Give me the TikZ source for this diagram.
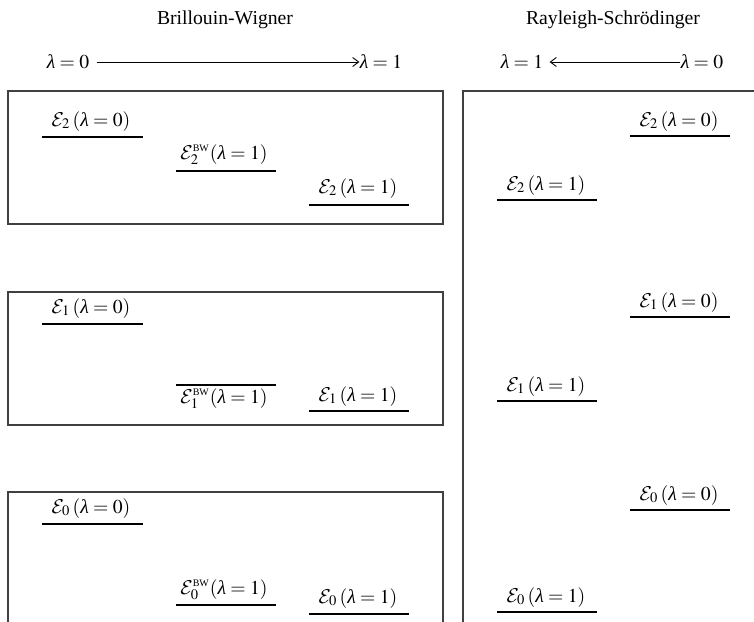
\documentclass[tikz,border=0pt]{standalone}
\usepackage{mathptmx}
\usepackage{fontspec}
\setmainfont{Liberation Serif}
\DeclareMathAlphabet{\mathcalcm}{OMS}{cmsy}{m}{n}
\usetikzlibrary{arrows.meta}
\newcommand{\bwsup}{\mbox{\fontsize{5}{5}\selectfont BW}}
\newcommand{\En}{\mathcalcm{E}}
\newcommand{\lam}{\mbox{\itshape λ}}
\begin{document}
\begin{tikzpicture}[x=0.5pt,y=-0.5pt,
  every node/.style={font=\fontsize{9.85}{12}\selectfont},
  ttl/.style={inner sep=0pt},
  lab/.style={inner sep=0pt, anchor=base},
  lvl/.style={line width=1pt, line cap=butt},
  frame/.style={draw=black!75, line width=0.6pt},
  arr/.style={-{Straight Barb[length=3pt,width=4.5pt]}, line width=0.45pt}]
\useasboundingbox (0,0) rectangle (754,621);

% titles
\node[ttl] (tbw) at (225,20) {Brillouin-Wigner};
\node[ttl] (trs) at (613,20) {Rayleigh-Schrödinger};

% lambda arrows
\node[ttl] (la0) at (68,62) {$\lam = 0$};
\node[ttl] (la1) at (381,62) {$\lam = 1$};
\draw[arr, shorten <=3.5pt] (la0) -- (la1);
\node[ttl] (ra1) at (522,62) {$\lam = 1$};
\node[ttl] (ra0) at (702,62) {$\lam = 0$};
\draw[arr, shorten >=3pt] (ra0) -- (ra1);

% frames
\draw[frame] (8,91) rectangle (443,224);
\draw[frame] (8,292) rectangle (443,425);
\draw[frame] (8,625) -- (8,492) -- (443,492) -- (443,625);
\draw[frame] (463,625) -- (463,91) -- (758,91);

% Brillouin-Wigner, level 2
\draw[lvl] (42,137) -- (143,137);
\node[lab] (l2a) at (91,126) {$\En_2\,(\lam = 0)$};
\draw[lvl] (176,171) -- (276,171);
\node[lab] (l2b) at (224,159) {$\En_2^{\bwsup}(\lam = 1)$};
\draw[lvl] (309,205) -- (409,205);
\node[lab] (l2c) at (358,193) {$\En_2\,(\lam = 1)$};

% level 1
\draw[lvl] (42,324) -- (143,324);
\node[lab] (l1a) at (91,313) {$\En_1\,(\lam = 0)$};
\draw[lvl] (176,385) -- (276,385);
\node[lab] (l1b) at (224,403) {$\En_1^{\bwsup}(\lam = 1)$};
\draw[lvl] (309,411) -- (409,411);
\node[lab] (l1c) at (358,401) {$\En_1\,(\lam = 1)$};

% level 0
\draw[lvl] (42,524) -- (143,524);
\node[lab] (l0a) at (91,513) {$\En_0\,(\lam = 0)$};
\draw[lvl] (176,605) -- (276,605);
\node[lab] (l0b) at (224,594) {$\En_0^{\bwsup}(\lam = 1)$};
\draw[lvl] (309,614) -- (409,614);
\node[lab] (l0c) at (358,603) {$\En_0\,(\lam = 1)$};

% Rayleigh-Schroedinger
\draw[lvl] (630,136) -- (730,136);
\node[lab] (r2a) at (679,126) {$\En_2\,(\lam = 0)$};
\draw[lvl] (497,200) -- (597,200);
\node[lab] (r2b) at (546,190) {$\En_2\,(\lam = 1)$};
\draw[lvl] (630,317) -- (730,317);
\node[lab] (r1a) at (679,307) {$\En_1\,(\lam = 0)$};
\draw[lvl] (497,401) -- (597,401);
\node[lab] (r1b) at (546,391) {$\En_1\,(\lam = 1)$};
\draw[lvl] (630,510) -- (730,510);
\node[lab] (r0a) at (679,500) {$\En_0\,(\lam = 0)$};
\draw[lvl] (497,612) -- (597,612);
\node[lab] (r0b) at (546,602) {$\En_0\,(\lam = 1)$};
\end{tikzpicture}
\end{document}
